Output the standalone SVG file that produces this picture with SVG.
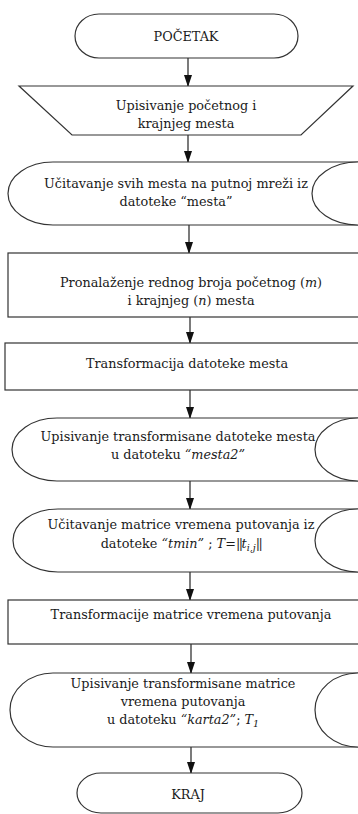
<svg xmlns="http://www.w3.org/2000/svg" width="358" height="814" viewBox="0 0 358 814">
<defs>
<marker id="ahd" markerWidth="12" markerHeight="8" refX="11" refY="4" orient="auto" markerUnits="userSpaceOnUse">
<path d="M0,0 L12,4 L0,8 z" fill="#111"/>
</marker>
</defs>
<style>
.s{fill:#fff;stroke:#333;stroke-width:1.2}
text{font-family:'DejaVu Serif',serif;font-size:12.8px;fill:#1a1a1a;text-anchor:middle}
.i{font-style:italic}
.b{letter-spacing:-1.5px}
.c{stroke:#222;stroke-width:1.2;fill:none}
</style>
<rect width="358" height="814" fill="#fff"/>

<g id="connectors">
<line class="c" x1="188" y1="58" x2="188" y2="86" marker-end="url(#ahd)"/>
<line class="c" x1="188" y1="135" x2="188" y2="162" marker-end="url(#ahd)"/>
<line class="c" x1="189" y1="225" x2="189" y2="253" marker-end="url(#ahd)"/>
<line class="c" x1="190" y1="317" x2="190" y2="343" marker-end="url(#ahd)"/>
<line class="c" x1="190" y1="390" x2="190" y2="418" marker-end="url(#ahd)"/>
<line class="c" x1="190" y1="481" x2="190" y2="509" marker-end="url(#ahd)"/>
<line class="c" x1="190" y1="572" x2="190" y2="600" marker-end="url(#ahd)"/>
<line class="c" x1="191" y1="644" x2="191" y2="673" marker-end="url(#ahd)"/>
<line class="c" x1="191" y1="747" x2="191" y2="773" marker-end="url(#ahd)"/>
</g>

<g id="pocetak">
<rect class="s" x="75" y="14" width="223" height="44" rx="24" ry="22"/>
<text x="186" y="41">POČETAK</text>
</g>

<g id="upis-mesta">
<path class="s" d="M19,86 L353,86 L301,135 L72,135 Z"/>
<text x="186" y="110">Upisivanje početnog i</text>
<text x="186" y="128">krajnjeg  mesta</text>
</g>

<g id="ucitavanje-mesta">
<path class="s" d="M360,162 L53,162 A45,31.5 0 0 0 53,225 L360,225"/>
<path class="s" d="M358,162 A46,31.5 0 0 0 358,225" fill="none"/>
<text x="176" y="188">Učitavanje svih mesta na putnoj mreži iz</text>
<text x="176" y="206">datoteke “mesta”</text>
</g>

<g id="pronalazenje">
<rect class="s" x="8" y="253" width="360" height="64"/>
<text x="191" y="287">Pronalaženje rednog broja početnog (<tspan class="i">m</tspan>)</text>
<text x="191" y="305">i krajnjeg (<tspan class="i">n</tspan>) mesta</text>
</g>

<g id="transformacija-mesta">
<rect class="s" x="5" y="343" width="360" height="47"/>
<text x="187" y="368">Transformacija datoteke mesta</text>
</g>

<g id="upis-mesta2">
<path class="s" d="M360,418 L57,418 A45,31.5 0 0 0 57,481 L360,481"/>
<path class="s" d="M358,418 A43,31.5 0 0 0 358,481" fill="none"/>
<text x="178" y="441">Upisivanje  transformisane datoteke mesta</text>
<text x="178" y="459">u datoteku <tspan class="i">“mesta2”</tspan></text>
</g>

<g id="ucitavanje-matrice">
<path class="s" d="M360,509 L58,509 A45,31.5 0 0 0 58,572 L360,572"/>
<path class="s" d="M358,509 A43,31.5 0 0 0 358,572" fill="none"/>
<text x="181" y="548">datoteke <tspan class="i">“tmin”</tspan> ; <tspan class="i">T</tspan>=<tspan class="b">||</tspan><tspan class="i">t<tspan font-size="9.5" dy="3">i,j</tspan></tspan><tspan dy="-3" class="b">||</tspan></text>
<text x="181" y="529">Učitavanje matrice vremena putovanja iz</text>
</g>

<g id="transformacija-matrice">
<rect class="s" x="8" y="600" width="360" height="44"/>
<text x="191" y="619">Transformacije matrice vremena putovanja</text>
</g>

<g id="upis-karta2">
<path class="s" d="M360,673 L53,673 A43,37 0 0 0 53,747 L360,747"/>
<path class="s" d="M358,673 A43,37 0 0 0 358,747" fill="none"/>
<text x="183" y="688">Upisivanje transformisane matrice</text>
<text x="183" y="706">vremena putovanja</text>
<text x="183" y="724">u datoteku <tspan class="i">“karta2”</tspan>; <tspan class="i">T<tspan font-size="9.5" dy="3">1</tspan></tspan></text>
</g>

<g id="kraj">
<rect class="s" x="77" y="773" width="225" height="40" rx="24" ry="20"/>
<text x="188" y="799">KRAJ</text>
</g>
</svg>
